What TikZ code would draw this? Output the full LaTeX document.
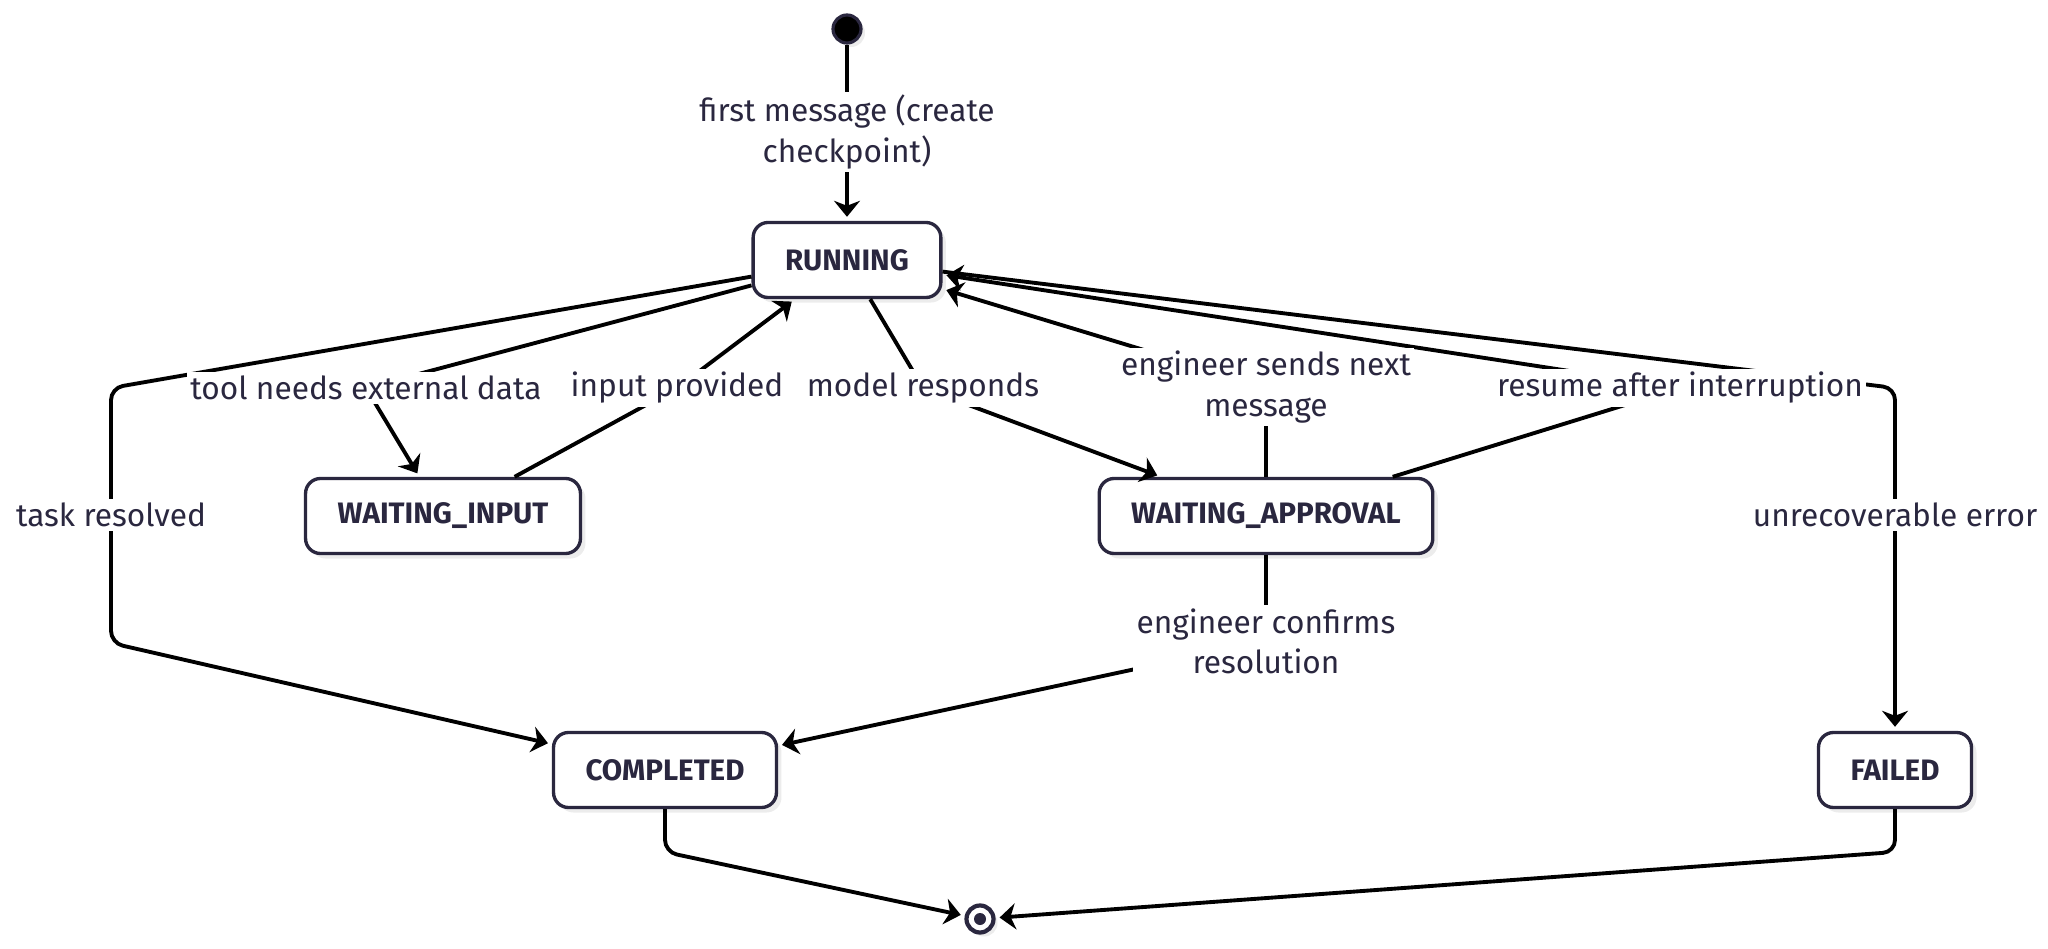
\documentclass[tikz,border=0pt]{standalone}
\usepackage{fontspec}
\setmainfont{Fira Sans}
\usetikzlibrary{arrows.meta,shadows}
\definecolor{ink}{HTML}{2A273F}
\definecolor{shade}{HTML}{ECECEC}

\begin{document}
\begin{tikzpicture}[x=0.01cm,y=-0.01cm,
  state/.style={draw=ink,line width=0.95pt,fill=white,rounded corners=0.15cm,
    minimum height=0.75cm,inner xsep=0.32cm,text=ink,
    font=\fontsize{8.4}{9}\selectfont\bfseries,
    drop shadow={shadow xshift=0.05cm,shadow yshift=-0.05cm,fill=shade,opacity=1}},
  lbl/.style={fill=white,inner sep=1pt,align=center,text=ink,
    font=\fontsize{9}{11.4}\selectfont},
  edge/.style={line width=1.1pt,-{Stealth[length=0.16cm,width=0.26cm,inset=0.05cm]},
    shorten >=0.04cm,rounded corners=0.12cm}]
\useasboundingbox (0,0) rectangle (2048,949);

% states
\node[state] (run) at (847,260) {RUNNING};
\node[state] (wInput) at (443,516) {WAITING\_INPUT};
\node[state] (wApproval) at (1266,516) {WAITING\_APPROVAL};
\node[state] (done) at (665,770) {COMPLETED};
\node[state] (failed) at (1895,770) {FAILED};

% initial and final pseudo states
\node[circle,fill=black,draw=ink,line width=0.9pt,minimum size=0.28cm,inner sep=0pt,
  drop shadow={shadow xshift=0.04cm,shadow yshift=-0.04cm,fill=shade,opacity=1}] (start) at (847,29) {};
\node[circle,fill=white,draw=ink,line width=1.2pt,minimum size=0.27cm,inner sep=0pt,
  drop shadow={shadow xshift=0.04cm,shadow yshift=-0.04cm,fill=shade,opacity=1}] (stop) at (980,919) {};
\fill[ink] (stop) circle (0.06cm);

% where the labels sit and where the lines turn
\coordinate (cFirst) at (847,132);
\coordinate (tTop) at (111,388);
\coordinate (cTask) at (111,515);
\coordinate (tBot) at (111,643);
\coordinate (cTool) at (366,388);
\coordinate (cInput) at (677,388);
\coordinate (cModel) at (923,388);
\coordinate (cSends) at (1266,387);
\coordinate (cResume) at (1680,388);
\coordinate (eTurn) at (1895,388);
\coordinate (cError) at (1895,515);
\coordinate (cConfirm) at (1266,641);
\coordinate (dTurn) at (665,852);
\coordinate (fTurn) at (1895,852);

% transitions
\draw[edge] (start) -- (run);
\draw[edge] (run) -- (tTop) -- (tBot) -- (done);
\draw[edge] (run) -- (cTool) -- (wInput);
\draw[edge] (wInput) -- (cInput) -- (run);
\draw[edge] (run) -- (cModel) -- (wApproval);
\draw[edge] (wApproval) -- (cSends) -- (run);
\draw[edge] (wApproval) -- (cResume) -- (run);
\draw[edge] (run) -- (eTurn) -- (failed);
\draw[edge] (wApproval) -- (cConfirm) -- (done);
\draw[edge] (done) -- (dTurn) -- (stop);
\draw[edge] (failed) -- (fTurn) -- (stop);

% transition labels
\node[lbl] (lFirst) at (cFirst) {first message (create\\checkpoint)};
\node[lbl] (lTask) at (cTask) {task resolved};
\node[lbl] (lTool) at (cTool) {tool needs external data};
\node[lbl] (lInput) at (cInput) {input provided};
\node[lbl] (lModel) at (cModel) {model responds};
\node[lbl] (lSends) at (cSends) {engineer sends next\\message};
\node[lbl] (lResume) at (cResume) {resume after interruption};
\node[lbl] (lError) at (cError) {unrecoverable error};
\node[lbl] (lConfirm) at (cConfirm) {engineer confirms\\resolution};
\end{tikzpicture}
\end{document}
